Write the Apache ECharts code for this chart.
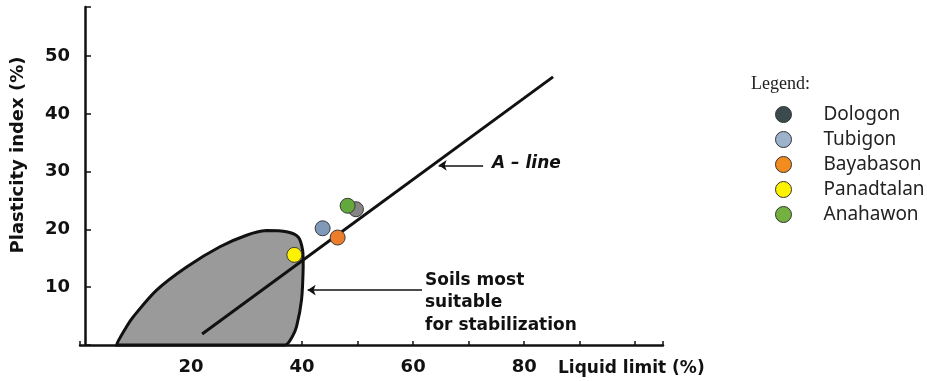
<!DOCTYPE html>
<html>
<head>
<meta charset="utf-8">
<script src="https://cdn.jsdelivr.net/npm/echarts@6/dist/echarts.min.js"></script>
<style>
  html, body { margin: 0; padding: 0; background: #fff; }
  #chart { width: 927px; height: 381px; }
</style>
</head>
<body>
<div id="chart"></div>
<script>
// soil samples plotted on the plasticity chart
const soilNames = ['Dologon', 'Tubigon', 'Bayabason', 'Panadtalan', 'Anahawon'];
const liquidLimit = [49.7, 43.7, 46.4, 38.6, 48.2];
const plasticityIndex = [23.5, 20.2, 18.6, 15.6, 24.1];
const pointColors = ['#858585', '#7f99b8', '#ec7d2a', '#fff200', '#63a83c'];
const legendColors = ['#3b4a4d', '#9db3cc', '#f28c1e', '#fff200', '#74b040'];

// A-line
const aLineLL = [22.0, 85.2];
const aLinePI = [1.9, 46.4];

// zone of soils most suitable for stabilization (outline)
const blobLL = [6.6, 8.4, 9.6, 13.8, 19.2, 25.2, 30.0, 33.6, 37.2, 39.3, 40.1, 40.2, 39.9, 39.0, 38.2, 37.0, 30, 20, 12];
const blobPI = [0, 3.2, 4.9, 9.5, 13.5, 17.0, 19.0, 19.8, 19.6, 18.7, 16.4, 13.6, 7.8, 3.2, 1.4, 0, 0, 0, 0];

// tick labels
const xLabels = [20, 40, 60, 80];
const yLabels = [10, 20, 30, 40, 50];

const ink = '#111';
const chart = echarts.init(document.getElementById('chart'));

const scatterSeries = soilNames.map((name, i) => ({
    name: name,
    type: 'scatter',
    z: 5,
    symbol: 'circle',
    symbolSize: 15,
    itemStyle: { color: pointColors[i], borderColor: '#3a3a3a', borderWidth: 1, opacity: 1 },
    data: [[liquidLimit[i], plasticityIndex[i]]]
}));

const option = {
    backgroundColor: '#fff',
    animation: false,
    title: {
        text: 'Legend:',
        left: 751,
        top: 75,
        padding: 0,
        textStyle: { fontFamily: 'Liberation Serif', fontSize: 18, fontWeight: 'normal', color: '#222' }
    },
    legend: {
        orient: 'vertical',
        left: 775,
        top: 105,
        padding: 0,
        itemWidth: 16,
        itemHeight: 16,
        itemGap: 6,
        icon: 'circle',
        selectedMode: false,
        textStyle: { fontFamily: 'Noto Sans', fontSize: 19, color: '#222', padding: [0, 0, 0, 27], lineHeight: 16 },
        data: soilNames.map((n, i) => ({
            name: n,
            itemStyle: { color: legendColors[i], borderColor: '#333', borderWidth: 1 }
        }))
    },
    grid: { left: 80, right: 264, top: 7, bottom: 36, containLabel: false, outerBoundsMode: 'none' },
    xAxis: {
        type: 'value',
        min: 0,
        max: 105,
        interval: 10,
        axisLine: { show: true, lineStyle: { color: ink, width: 2.5 } },
        axisTick: { show: true, inside: true, length: 4, lineStyle: { color: ink, width: 1.5 } },
        axisLabel: {
            margin: 13,
            fontFamily: 'DejaVu Sans',
            fontSize: 18,
            fontWeight: 'bold',
            color: ink,
            formatter: v => xLabels.indexOf(v) >= 0 ? String(v) : ''
        },
        splitLine: { show: false }
    },
    yAxis: {
        type: 'value',
        min: 0,
        max: 58.5,
        interval: 10,
        offset: -5,
        name: 'Plasticity index (%)',
        nameLocation: 'middle',
        nameGap: 58,
        nameTextStyle: { fontFamily: 'DejaVu Sans', fontSize: 18, fontWeight: 'bold', color: ink, padding: [0, 0, 0, 42] },
        axisLine: { show: true, lineStyle: { color: ink, width: 2.5 } },
        axisTick: { show: true, inside: true, length: 6, lineStyle: { color: ink, width: 1.5 } },
        axisLabel: {
            margin: 15,
            fontFamily: 'DejaVu Sans',
            fontSize: 18,
            fontWeight: 'bold',
            color: ink,
            formatter: v => yLabels.indexOf(v) >= 0 ? String(v) : ''
        },
        splitLine: { show: false }
    },
    graphic: [
        {
            type: 'text',
            left: 558,
            top: 360,
            style: { text: 'Liquid limit (%)', font: 'bold 17px "DejaVu Sans"', fill: ink }
        },
        {
            type: 'text',
            left: 492,
            top: 155,
            style: { text: 'A – line', font: 'italic bold 17px "DejaVu Sans"', fill: ink }
        },
        {
            type: 'text',
            left: 425,
            top: 269,
            style: {
                text: 'Soils most\nsuitable\nfor stabilization',
                font: 'bold 17px "DejaVu Sans"',
                lineHeight: 22.5,
                fill: ink
            }
        }
    ],
    series: [
        {
            name: 'zone',
            type: 'custom',
            z: 1,
            silent: true,
            data: [0],
            renderItem: (params, api) => {
                const pts = blobLL.map((x, i) => api.coord([x, blobPI[i]]));
                const xs = pts.map(p => p[0]);
                const ys = pts.map(p => p[1]);
                const box = [
                    [Math.min.apply(null, xs), Math.min.apply(null, ys)],
                    [Math.max.apply(null, xs), Math.max.apply(null, ys)]
                ];
                return {
                    type: 'polygon',
                    shape: { points: pts, smooth: 0.3, smoothConstraint: box },
                    style: { fill: '#9a9a9a', stroke: ink, lineWidth: 3 }
                };
            }
        },
        {
            name: 'A-line',
            type: 'line',
            z: 2,
            symbol: 'none',
            silent: true,
            lineStyle: { color: ink, width: 3 },
            data: aLineLL.map((x, i) => [x, aLinePI[i]]),
            markLine: {
                silent: true,
                symbol: ['none', 'arrow'],
                symbolSize: 8,
                label: { show: false },
                lineStyle: { color: ink, width: 1.5, type: 'solid' },
                data: [
                    [{ coord: [72.6, 31.1] }, { coord: [64.6, 31.1] }],
                    [{ coord: [61.6, 9.5] }, { coord: [41.0, 9.5] }]
                ]
            }
        }
    ].concat(scatterSeries)
};

chart.setOption(option);
</script>
</body>
</html>
